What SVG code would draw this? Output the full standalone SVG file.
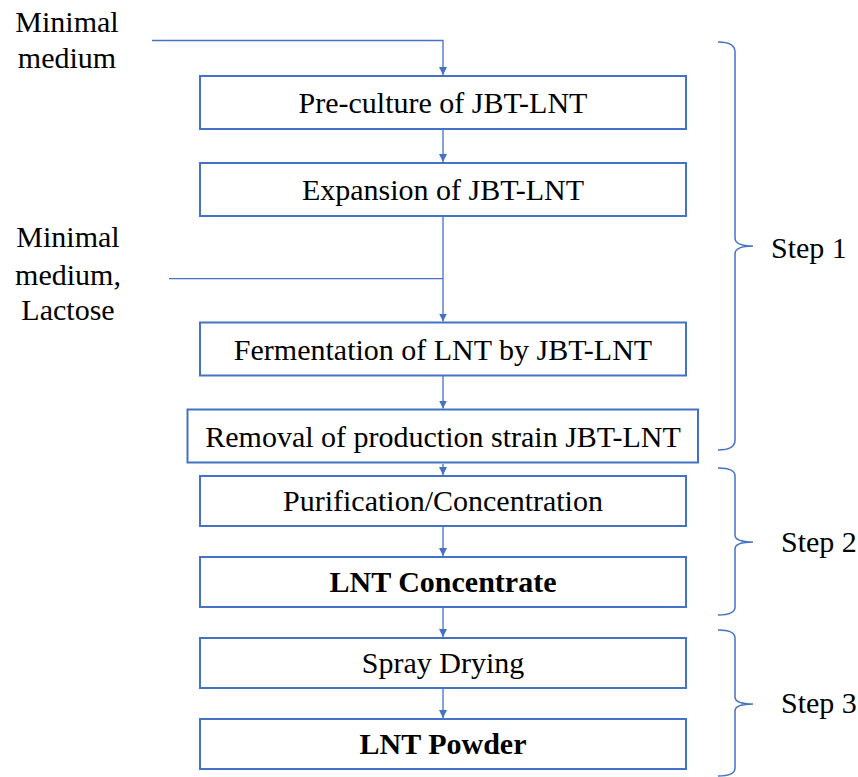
<svg xmlns="http://www.w3.org/2000/svg" width="858" height="777" viewBox="0 0 858 777">
<style>
.box{fill:#fff;stroke:#4472C4;stroke-width:2}
.t{font-family:'Liberation Serif','Times New Roman',serif;font-size:30px;fill:#000;text-anchor:middle}
.b{font-weight:bold}
.s{text-anchor:start}
.c{fill:none;stroke:#4472C4;stroke-width:1.3}
.br{fill:none;stroke:#4472C4;stroke-width:1.5}
</style>
<defs>
<marker id="ah" viewBox="0 0 10 10" refX="10" refY="5" markerWidth="8" markerHeight="8" markerUnits="userSpaceOnUse" orient="auto">
<path d="M0,0 L10,5 L0,10 z" fill="#4472C4"/>
</marker>
</defs>
<g id="connectors">
<path class="c" d="M152,40.5 H443 V75" marker-end="url(#ah)"/>
<path class="c" d="M443,130 V162" marker-end="url(#ah)"/>
<path class="c" d="M443,217 V321.5" marker-end="url(#ah)"/>
<path class="c" d="M169,278.6 H443"/>
<path class="c" d="M443,376 V408.5" marker-end="url(#ah)"/>
<path class="c" d="M443,464 V475" marker-end="url(#ah)"/>
<path class="c" d="M443,527 V556" marker-end="url(#ah)"/>
<path class="c" d="M443,608 V637" marker-end="url(#ah)"/>
<path class="c" d="M443,689 V718" marker-end="url(#ah)"/>
</g>
<g id="input1">
<text class="t" x="67" y="32">Minimal</text>
<text class="t" x="67" y="68">medium</text>
</g>
<g id="input2">
<text class="t" x="68" y="247">Minimal</text>
<text class="t" x="68" y="285">medium,</text>
<text class="t" x="68" y="320">Lactose</text>
</g>
<g id="n1"><rect class="box" x="200" y="76" width="486" height="53"/><text class="t" x="443" y="113">Pre-culture of JBT-LNT</text></g>
<g id="n2"><rect class="box" x="200" y="163" width="486" height="53"/><text class="t" x="443" y="200">Expansion of JBT-LNT</text></g>
<g id="n3"><rect class="box" x="200" y="322.5" width="486" height="53"/><text class="t" x="443" y="359.5">Fermentation of LNT by JBT-LNT</text></g>
<g id="n4"><rect class="box" x="187.5" y="409.5" width="510.5" height="53"/><text class="t" x="443" y="446.5">Removal of production strain JBT-LNT</text></g>
<g id="n5"><rect class="box" x="200" y="476" width="486" height="50"/><text class="t" x="443" y="511">Purification/Concentration</text></g>
<g id="n6"><rect class="box" x="200" y="557" width="486" height="50"/><text class="t b" x="443" y="592">LNT Concentrate</text></g>
<g id="n7"><rect class="box" x="200" y="638" width="486" height="50"/><text class="t" x="443" y="673">Spray Drying</text></g>
<g id="n8"><rect class="box" x="200" y="719" width="486" height="50"/><text class="t b" x="443" y="754">LNT Powder</text></g>
<g id="step1">
<path class="br" d="M718,42 Q735,42 735,52 L735,238 Q735,246 753,246 Q735,246 735,254 L735,440 Q735,450 718,450"/>
<text class="t s" x="771" y="258">Step 1</text>
</g>
<g id="step2">
<path class="br" d="M718,468 Q735,468 735,476 L735,535 Q735,542 753,542 Q735,542 735,549 L735,607 Q735,615 718,615"/>
<text class="t s" x="781" y="552">Step 2</text>
</g>
<g id="step3">
<path class="br" d="M718,630 Q735,630 735,638 L735,697 Q735,704 753,704 Q735,704 735,711 L735,768 Q735,776 718,776"/>
<text class="t s" x="781" y="713">Step 3</text>
</g>
</svg>
